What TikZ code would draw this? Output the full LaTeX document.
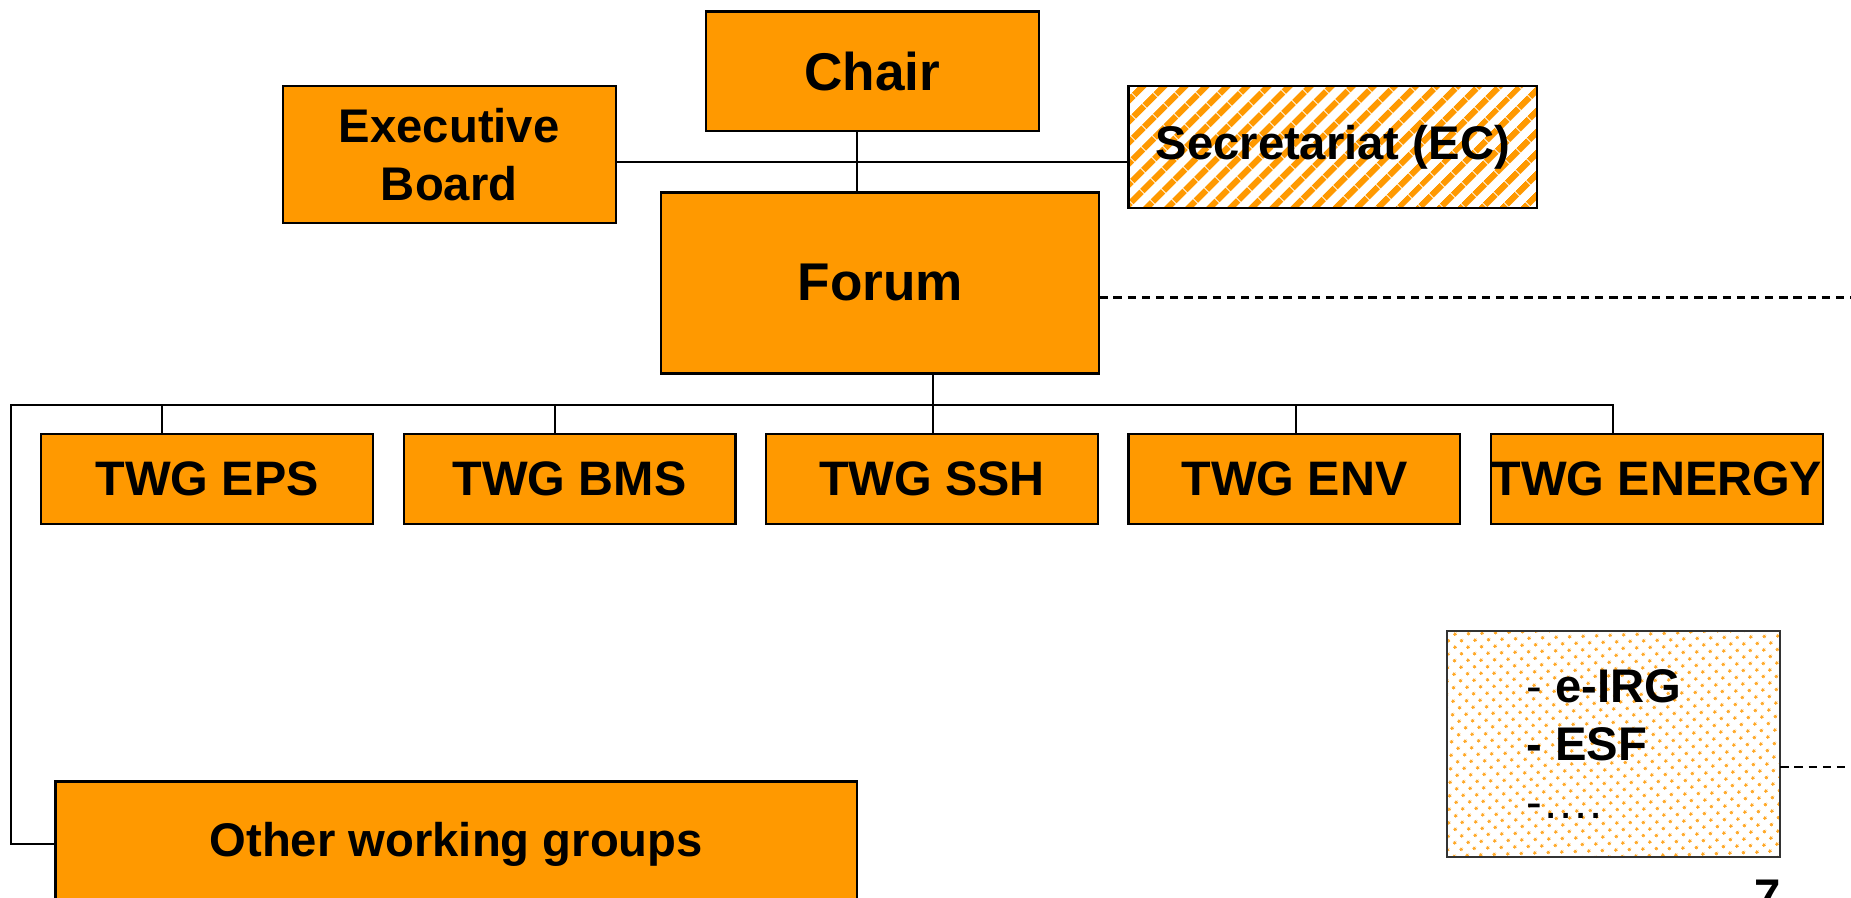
\documentclass[tikz,border=0pt]{standalone}
\usepackage{fontspec}
\setmainfont{Liberation Sans}
\usetikzlibrary{positioning,patterns.meta}
\definecolor{boxorange}{RGB}{255,153,0}

\begin{document}
\begin{tikzpicture}
  [x=0.5pt,y=-0.5pt,
   boxN/.style={rectangle,draw,line width=0.9pt,inner sep=0pt,outer sep=0pt,
     align=center,font=\fontsize{20}{24.4}\selectfont\bfseries},
   orgN/.style={boxN,fill=boxorange},
   twgN/.style={orgN,minimum width=140.5pt,minimum height=38pt,
     font=\fontsize{20.5}{24}\selectfont\bfseries},
   link/.style={line width=0.8pt},
   extlink/.style={line width=0.9pt,dash pattern=on 3.5pt off 2.5pt},
   node distance=13pt]

  \useasboundingbox (0,0) rectangle (1568,760.7);
  \clip (0,0) rectangle (1568,760.7);

  \node[orgN,minimum width=141pt,minimum height=50.75pt,
    font=\fontsize{22.5}{26}\selectfont\bfseries] (chair) at (739,60.5) {Chair};
  \node[orgN,minimum width=141pt,minimum height=57.75pt] (exec) at (380.5,130.8) {Executive\\Board};
  \node[boxN,minimum width=173pt,minimum height=51.75pt,preaction={fill=white},
    pattern={Lines[angle=45,distance=6.4pt,line width=2.8pt]},pattern color=boxorange]
    (sec) at (1129,124.8) {Secretariat (EC)};
  \node[orgN,minimum width=185.5pt,minimum height=76.65pt,
    font=\fontsize{22.5}{26}\selectfont\bfseries] (forum) at (745.7,239.7) {Forum};

  \node[twgN] (eps) at (175.5,406) {TWG EPS};
  \node[twgN] (bms) [right=of eps] {TWG BMS};
  \node[twgN] (ssh) [right=of bms] {TWG SSH};
  \node[twgN] (env) [right=of ssh] {TWG ENV};
  \node[twgN] (energy) [right=of env] {TWG ENERGY};

  \node[orgN,minimum width=339.5pt,minimum height=53pt] (owg) at (386.5,715) {Other working groups};
  \node[boxN,minimum width=141.25pt,minimum height=96pt,align=left,draw=black!80,
    preaction={fill=white},
    pattern={Dots[angle=45,distance=4pt,radius=0.75pt]},pattern color=boxorange!85]
    (misc) at (1366.8,630.3) {{\mdseries -} e-IRG\hspace*{8pt}\\- ESF\\{\mdseries -….}};

  \node[font=\fontsize{20}{24}\selectfont\bfseries,anchor=base] (pnum) at (1497,773) {7};

  \coordinate (hub) at (726,137);
  \coordinate (bus) at (790,343);
  \coordinate (busL) at (9.5,343);
  \coordinate (busR) at (1366,343);
  \coordinate (rimA) at (1568,252);
  \coordinate (rimB) at (1568,649.5);

  \draw[link] (exec.east |- hub) -- (sec.west |- hub);
  \draw[link] (chair.south -| hub) -- (forum.north -| hub);
  \draw[link] (forum.south -| bus) -- (ssh.north -| bus);
  \draw[link] (owg.west) -| (busL) -- (busR) -- (energy.north -| busR);
  \foreach \n/\x in {eps/137.5,bms/470,env/1098}
    \draw[link] (\n.north -| \x,343) -- (\x,343);

  \draw[extlink] (forum.east |- rimA) -- (rimA);
  \draw[extlink] (misc.east |- rimB) -- (rimB);

\end{tikzpicture}
\end{document}
